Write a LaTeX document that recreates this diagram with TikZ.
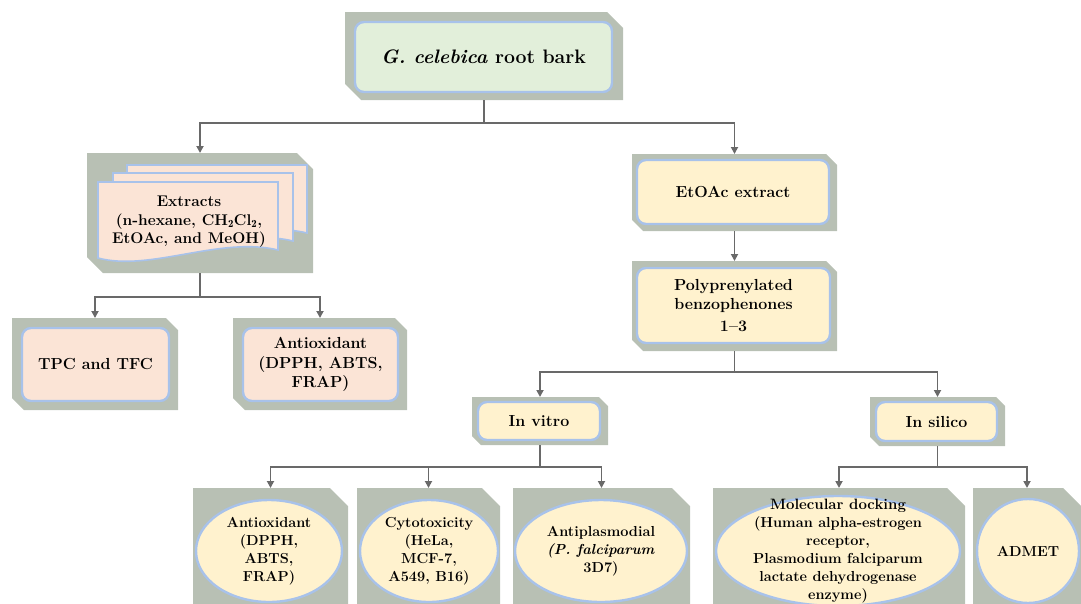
\documentclass[tikz,border=0pt]{standalone}
\usepackage{fontspec}
\usetikzlibrary{arrows.meta,shapes.geometric}
\definecolor{bggray}{RGB}{184,192,180}
\definecolor{bluebd}{RGB}{168,194,234}
\definecolor{yel}{RGB}{255,242,206}
\definecolor{pink}{RGB}{251,228,214}
\definecolor{grn}{RGB}{226,239,218}
\definecolor{arrgray}{RGB}{105,105,105}
\newcommand\gbox[6]{%
  \node[gnode, minimum width={#4-#2}, minimum height={#5-#3}] (#1) at ({(#2+#4)/2},{(#3+#5)/2}) {};
  \fill[bggray] (#1.north west) -- ([xshift=-#6pt]#1.north east) -- ([yshift=-#6pt]#1.north east)
     -- (#1.south east) -- ([xshift=#6pt]#1.south west) -- ([yshift=#6pt]#1.south west) -- cycle;}
\newcommand\ibox[7]{%
  \node[ibx, fill=#6, minimum width={#4-#2}, minimum height={#5-#3}] (#1) at ({(#2+#4)/2},{(#3+#5)/2}) {#7};}
\newcommand\ellbox[6]{%
  \node[elx, minimum width={2*#4}, minimum height={2*#5}] (#1) at (#2,#3) {};
  \node[txt] (#1t) at (#2,#3) {#6};}
\begin{document}
\begin{tikzpicture}[x=1pt,y=-1pt,
  gnode/.style={inner sep=0pt, outer sep=0pt},
  ibx/.style={rounded corners=9pt, draw=bluebd, line width=2.4pt, inner sep=0pt, align=center,
     font=\fontsize{16}{19.5}\selectfont\bfseries},
  elx/.style={ellipse, draw=bluebd, line width=2.4pt, fill=yel, inner sep=0pt},
  txt/.style={align=center, inner sep=0pt, font=\fontsize{14.5}{18}\selectfont\bfseries},
  pg/.style={fill=pink, draw=bluebd, line width=1.6pt},
  arr/.style={draw=arrgray, line width=1.8pt, -{Triangle[length=7pt,width=7pt]}}]
\useasboundingbox (0,0) rectangle (1081,603);

% top
\gbox{gTop}{345}{12}{623}{100}{16}
\ibox{top}{355}{22}{612}{92}{grn}{\fontsize{19.5}{24}\selectfont\textit{G. celebica} root bark}

% extracts
\gbox{gExt}{87}{153}{313}{273}{16}
\begin{scope}[shift={(29,-17)}]
\draw[pg] (98,182) -- (278,182) -- (278,250) .. controls (220,236) and (150,272) .. (98,258) -- cycle;
\end{scope}
\begin{scope}[shift={(15,-9)}]
\draw[pg] (98,182) -- (278,182) -- (278,250) .. controls (220,236) and (150,272) .. (98,258) -- cycle;
\end{scope}
\draw[pg] (98,182) -- (278,182) -- (278,250) .. controls (220,236) and (150,272) .. (98,258) -- cycle;
\node[txt, font=\fontsize{15.5}{18.5}\selectfont\bfseries] (ext) at (189,222) {Extracts\\(n-hexane, CH$_\mathbf{2}$Cl$_\mathbf{2}$,\\EtOAc, and MeOH)};

\gbox{gTpc}{12}{318}{178}{410}{12}
\ibox{tpc}{22}{328}{169}{401}{pink}{TPC and TFC}
\gbox{gAnt}{233}{318}{407}{410}{12}
\ibox{ant}{243}{328}{398}{401}{pink}{Antioxidant\\(DPPH, ABTS,\\FRAP)}

% right branch
\gbox{gEto}{632}{154}{837}{231}{11}
\ibox{eto}{637}{160}{829}{224}{yel}{EtOAc extract}
\gbox{gPoly}{632}{261}{837}{351}{11}
\ibox{poly}{637}{268}{830}{343}{yel}{Polyprenylated\\benzophenones\\[2pt]1--3}

\gbox{gVit}{472}{397}{608}{445}{9}
\ibox{vit}{478}{402}{600}{440}{yel}{In vitro}
\gbox{gSil}{870}{397}{1005}{446}{9}
\ibox{sil}{876}{402}{997}{441}{yel}{In silico}

% bottom row
\gbox{gE1}{193}{488}{348}{630}{18}
\ellbox{e1}{269}{551}{73}{51}{Antioxidant\\(DPPH,\\ABTS,\\FRAP)}
\gbox{gE2}{357}{488}{500}{630}{18}
\ellbox{e2}{429}{551}{69}{51}{Cytotoxicity\\(HeLa,\\MCF-7,\\A549, B16)}
\gbox{gE3}{513}{488}{690}{630}{18}
\ellbox{e3}{601}{551}{86}{51}{Antiplasmodial\\\textit{(P. falciparum}\\3D7)}
\gbox{gE4}{713}{488}{965}{630}{18}
\ellbox{e4}{838}{551}{122}{55}{\fontsize{15}{15.2}\selectfont Molecular docking\\(Human alpha-estrogen\\receptor,\\Plasmodium falciparum\\lactate dehydrogenase\\enzyme)}
\gbox{gE5}{973}{488}{1081}{630}{18}
\ellbox{e5}{1028}{551}{51}{52}{ADMET}

% connectors
\draw[arr] (gTop.south) -- ++(0,23) -| (gExt.north);
\draw[arr] (gTop.south) -- ++(0,23) -| (gEto.north);
\draw[arr] (gExt.south) -- ++(0,24) -| (gTpc.north);
\draw[arr] (gExt.south) -- ++(0,24) -| (gAnt.north);
\draw[arr] (gEto.south) -- (gPoly.north);
\draw[arr] (gPoly.south) -- ++(0,21) -| (gVit.north);
\draw[arr] (gPoly.south) -- ++(0,21) -| (gSil.north);
\draw[arr] (gVit.south) -- ++(0,22) -| (gE1.north);
\draw[arr] (gVit.south) -- ++(0,22) -| (gE2.north);
\draw[arr] (gVit.south) -- ++(0,22) -| (gE3.north);
\draw[arr] (gSil.south) -- ++(0,21) -| (gE4.north);
\draw[arr] (gSil.south) -- ++(0,21) -| (gE5.north);
\end{tikzpicture}
\end{document}
